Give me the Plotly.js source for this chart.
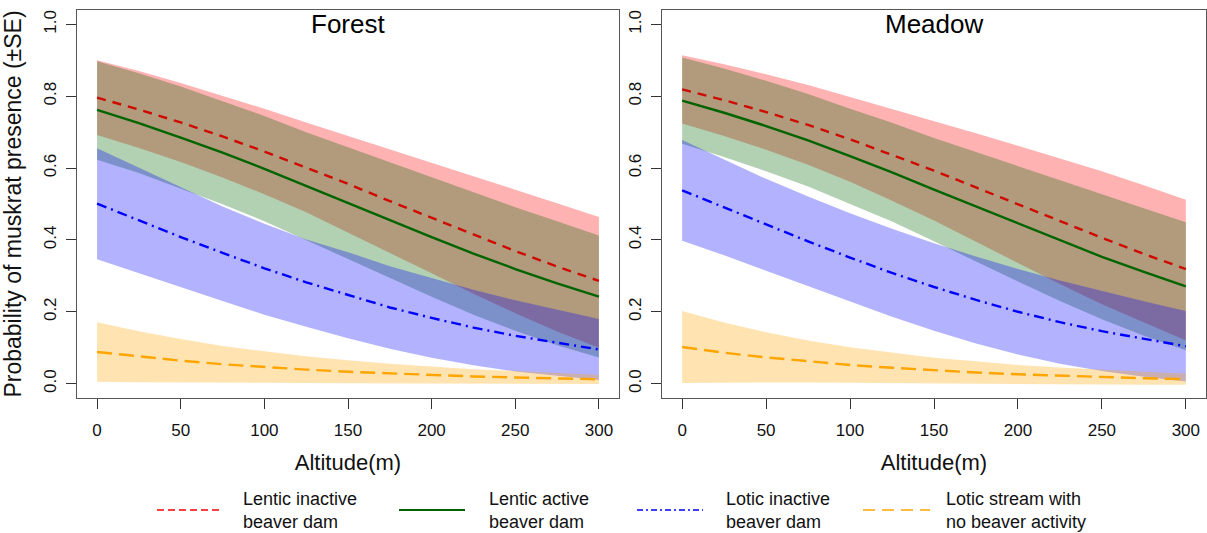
<!DOCTYPE html>
<html>
<head>
<meta charset="utf-8">
<script src="https://cdn.plot.ly/plotly-3.0.1.min.js"></script>
<style>html,body{margin:0;padding:0;background:#fff;}#chart{width:1207px;height:533px;}</style>
</head>
<body>
<div id="chart"></div>
<script>
// ---------------- data ----------------
const altitude = [0, 25, 50, 75, 100, 125, 150, 175, 200, 225, 250, 275, 300];
const xTicks = [0, 50, 100, 150, 200, 250, 300];
const yTicks = [0, 0.2, 0.4, 0.6, 0.8, 1.0];
const yTickText = ['0.0', '0.2', '0.4', '0.6', '0.8', '1.0'];
const panelTitles = ['Forest', 'Meadow'];
const seriesNames = ['Lentic inactive<br>beaver dam', 'Lentic active<br>beaver dam', 'Lotic inactive<br>beaver dam', 'Lotic stream with<br>no beaver activity'];

// Forest
const forestLenticInactive   = [0.796, 0.763, 0.727, 0.688, 0.646, 0.602, 0.556, 0.508, 0.461, 0.414, 0.369, 0.326, 0.286];
const forestLenticInactiveHi = [0.900, 0.870, 0.837, 0.802, 0.765, 0.727, 0.690, 0.652, 0.615, 0.578, 0.540, 0.502, 0.464];
const forestLenticInactiveLo = [0.692, 0.656, 0.617, 0.574, 0.527, 0.477, 0.422, 0.364, 0.307, 0.250, 0.196, 0.145, 0.100];
const forestLenticActive     = [0.762, 0.725, 0.685, 0.643, 0.598, 0.550, 0.503, 0.455, 0.408, 0.362, 0.319, 0.279, 0.242];
const forestLenticActiveHi   = [0.897, 0.864, 0.827, 0.787, 0.745, 0.700, 0.658, 0.615, 0.574, 0.532, 0.491, 0.452, 0.412];
const forestLenticActiveLo   = [0.623, 0.586, 0.543, 0.499, 0.452, 0.400, 0.348, 0.295, 0.242, 0.192, 0.147, 0.107, 0.073];
const forestLoticInactive    = [0.501, 0.454, 0.408, 0.364, 0.321, 0.282, 0.246, 0.212, 0.183, 0.156, 0.133, 0.113, 0.095];
const forestLoticInactiveHi  = [0.655, 0.601, 0.548, 0.493, 0.445, 0.401, 0.366, 0.327, 0.294, 0.261, 0.232, 0.205, 0.180];
const forestLoticInactiveLo  = [0.346, 0.307, 0.268, 0.230, 0.192, 0.158, 0.126, 0.097, 0.072, 0.051, 0.034, 0.021, 0.010];
const forestNoActivity       = [0.088, 0.075, 0.064, 0.054, 0.046, 0.039, 0.033, 0.028, 0.024, 0.020, 0.017, 0.014, 0.012];
const forestNoActivityHi     = [0.171, 0.146, 0.124, 0.105, 0.090, 0.076, 0.065, 0.055, 0.048, 0.040, 0.035, 0.029, 0.025];
const forestNoActivityLo     = [0.005, 0.004, 0.004, 0.003, 0.002, 0.002, 0.001, 0.001, 0.000, 0.000, -0.001, -0.001, -0.001];

// Meadow
const meadowLenticInactive   = [0.819, 0.789, 0.756, 0.720, 0.680, 0.637, 0.593, 0.546, 0.499, 0.452, 0.406, 0.361, 0.319];
const meadowLenticInactiveHi = [0.914, 0.889, 0.861, 0.831, 0.798, 0.765, 0.732, 0.697, 0.662, 0.627, 0.591, 0.552, 0.512];
const meadowLenticInactiveLo = [0.724, 0.689, 0.651, 0.609, 0.562, 0.509, 0.454, 0.395, 0.336, 0.277, 0.221, 0.170, 0.120];
const meadowLenticActive     = [0.788, 0.754, 0.717, 0.677, 0.633, 0.588, 0.540, 0.493, 0.445, 0.398, 0.353, 0.311, 0.271];
const meadowLenticActiveHi   = [0.908, 0.877, 0.843, 0.806, 0.765, 0.726, 0.684, 0.645, 0.606, 0.566, 0.527, 0.489, 0.449];
const meadowLenticActiveLo   = [0.668, 0.631, 0.591, 0.549, 0.501, 0.451, 0.396, 0.341, 0.284, 0.230, 0.179, 0.133, 0.093];
const meadowLoticInactive    = [0.538, 0.490, 0.442, 0.396, 0.351, 0.308, 0.269, 0.233, 0.200, 0.171, 0.146, 0.124, 0.104];
const meadowLoticInactiveHi  = [0.678, 0.623, 0.570, 0.521, 0.474, 0.431, 0.391, 0.354, 0.319, 0.287, 0.257, 0.229, 0.202];
const meadowLoticInactiveLo  = [0.398, 0.357, 0.314, 0.271, 0.228, 0.186, 0.147, 0.112, 0.081, 0.055, 0.035, 0.019, 0.006];
const meadowNoActivity       = [0.102, 0.086, 0.073, 0.062, 0.052, 0.044, 0.037, 0.031, 0.026, 0.022, 0.018, 0.015, 0.0125];
const meadowNoActivityHi     = [0.202, 0.170, 0.143, 0.120, 0.101, 0.086, 0.072, 0.062, 0.052, 0.045, 0.038, 0.033, 0.028];
const meadowNoActivityLo     = [0.002, 0.003, 0.003, 0.003, 0.002, 0.002, 0.001, 0.000, -0.001, -0.002, -0.002, -0.003, -0.003];

// ---------------- styles ----------------
const styles = [
  {band: 'rgba(255,0,0,0.3)',   line: '#cf0a00', dash: '9px,7px',          width: 2.4, legColor: '#ff0000', legDash: '7px,4px',          legWidth: 1.6},
  {band: 'rgba(0,100,0,0.3)',   line: '#006400', dash: 'solid',            width: 2.4, legColor: '#006400', legDash: 'solid',            legWidth: 2.0},
  {band: 'rgba(0,0,255,0.3)',   line: '#0000ff', dash: '10px,5px,2px,5px', width: 2.4, legColor: '#0000ff', legDash: '6px,3px,2px,3px', legWidth: 1.6},
  {band: 'rgba(255,165,0,0.3)', line: '#ffa500', dash: '15px,7px',         width: 2.4, legColor: '#ffa500', legDash: '12px,7px',         legWidth: 1.6}
];

const panels = [
  {xa: 'x',  ya: 'y',  series: [
    [forestLenticInactive, forestLenticInactiveLo, forestLenticInactiveHi],
    [forestLenticActive, forestLenticActiveLo, forestLenticActiveHi],
    [forestLoticInactive, forestLoticInactiveLo, forestLoticInactiveHi],
    [forestNoActivity, forestNoActivityLo, forestNoActivityHi]]},
  {xa: 'x2', ya: 'y2', series: [
    [meadowLenticInactive, meadowLenticInactiveLo, meadowLenticInactiveHi],
    [meadowLenticActive, meadowLenticActiveLo, meadowLenticActiveHi],
    [meadowLoticInactive, meadowLoticInactiveLo, meadowLoticInactiveHi],
    [meadowNoActivity, meadowNoActivityLo, meadowNoActivityHi]]}
];

const traces = [];
const revX = altitude.slice().reverse();
panels.forEach(p => {
  p.series.forEach((s, i) => {
    traces.push({
      type: 'scatter', mode: 'lines', xaxis: p.xa, yaxis: p.ya,
      x: altitude.concat(revX), y: s[2].concat(s[1].slice().reverse()),
      fill: 'toself', fillcolor: styles[i].band, line: {width: 0, color: 'rgba(0,0,0,0)'},
      hoverinfo: 'skip', showlegend: false
    });
  });
  p.series.forEach((s, i) => {
    traces.push({
      type: 'scatter', mode: 'lines', xaxis: p.xa, yaxis: p.ya,
      x: altitude, y: s[0], name: seriesNames[i].replace('<br>', ' '),
      line: {color: styles[i].line, width: styles[i].width, dash: styles[i].dash},
      showlegend: false
    });
  });
});

const FONT = 'Liberation Sans, Arial, Helvetica, sans-serif';
const W = 1207, H = 533;
const px = v => v / W, py = v => 1 - v / H;

function xAxis(domain) {
  return {
    domain: domain, range: [-12, 312], tickvals: xTicks, ticks: 'outside', ticklen: 10, tickwidth: 1,
    tickcolor: '#333', showline: true, mirror: true, linecolor: '#555', linewidth: 1.4,
    showgrid: false, zeroline: false, tickfont: {family: FONT, size: 17, color: '#111'},
    ticklabelstandoff: 6,
    title: {text: 'Altitude(m)', font: {family: FONT, size: 22, color: '#111'}, standoff: 16}
  };
}
function yAxis(domain, anchor, withTitle) {
  const a = {
    domain: domain, anchor: anchor, range: [-0.04, 1.04], tickvals: yTicks, ticktext: yTickText,
    tickangle: -90, ticks: 'outside', ticklen: 10, tickwidth: 1, tickcolor: '#333',
    showline: true, mirror: true, linecolor: '#555', linewidth: 1.4,
    showgrid: false, zeroline: false, tickfont: {family: FONT, size: 17, color: '#111'},
    ticklabelstandoff: 3
  };
  if (withTitle) a.title = {text: 'Probability of muskrat presence (±SE)', font: {family: FONT, size: 23, color: '#111'}, standoff: 12};
  return a;
}

const yDom = [py(398), py(10)];
const x1Dom = [px(77), px(619)];
const x2Dom = [px(662), px(1206)];

const annotations = [
  {text: panelTitles[0], x: (x1Dom[0] + x1Dom[1]) / 2, y: py(24), xref: 'paper', yref: 'paper', showarrow: false, xanchor: 'center', yanchor: 'middle', font: {family: FONT, size: 26, color: '#000'}},
  {text: panelTitles[1], x: (x2Dom[0] + x2Dom[1]) / 2, y: py(24), xref: 'paper', yref: 'paper', showarrow: false, xanchor: 'center', yanchor: 'middle', font: {family: FONT, size: 26, color: '#000'}}
];
const legendLineX = [[157, 223], [399, 465], [637, 703], [863, 930]];
const legendTextX = [241, 487, 724, 944];
const shapes = [];
seriesNames.forEach((name, i) => {
  shapes.push({type: 'line', xref: 'paper', yref: 'paper', x0: px(legendLineX[i][0]), x1: px(legendLineX[i][1]), y0: py(510), y1: py(510),
    line: {color: styles[i].legColor, width: styles[i].legWidth, dash: styles[i].legDash}});
  annotations.push({text: name, x: px(legendTextX[i]), y: py(511), xref: 'paper', yref: 'paper', showarrow: false,
    xanchor: 'left', yanchor: 'middle', align: 'left', font: {family: FONT, size: 18, color: '#111'}});
});

const layout = {
  width: W, height: H, margin: {l: 0, r: 0, t: 0, b: 0},
  paper_bgcolor: '#fff', plot_bgcolor: '#fff', showlegend: false,
  xaxis: Object.assign(xAxis(x1Dom), {anchor: 'y'}), yaxis: yAxis(yDom, 'x', true),
  xaxis2: Object.assign(xAxis(x2Dom), {anchor: 'y2'}), yaxis2: yAxis(yDom, 'x2', false),
  annotations: annotations, shapes: shapes
};

Plotly.newPlot('chart', traces, layout, {staticPlot: true, displayModeBar: false});
</script>
</body>
</html>
